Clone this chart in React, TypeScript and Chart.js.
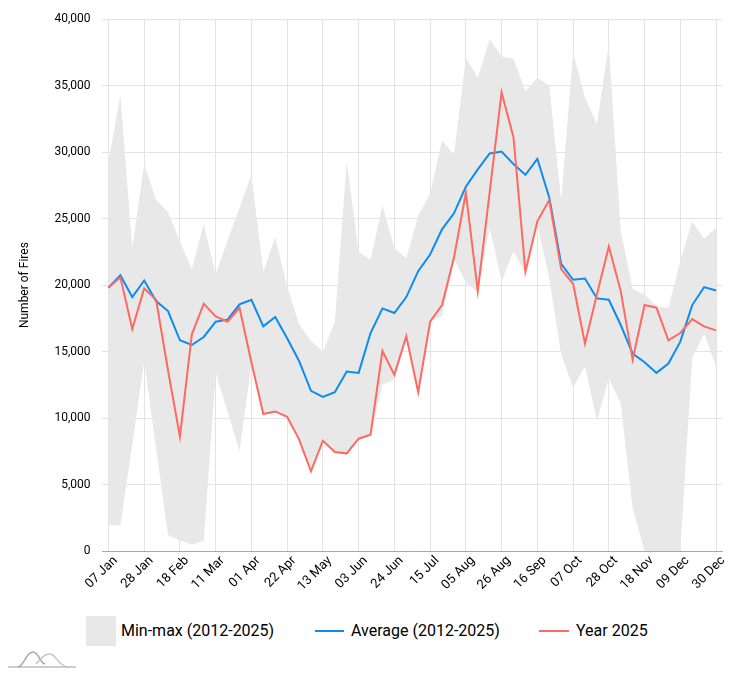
import { useEffect, useRef } from 'react';
import { Chart, registerables } from 'chart.js';

Chart.register(...registerables);

const FONT = 'Roboto, "Noto Sans", "DejaVu Sans", sans-serif';

const weeks = [
  '07 Jan', '14 Jan', '21 Jan', '28 Jan', '04 Feb', '11 Feb', '18 Feb', '25 Feb',
  '04 Mar', '11 Mar', '18 Mar', '25 Mar', '01 Apr', '08 Apr', '15 Apr', '22 Apr',
  '29 Apr', '06 May', '13 May', '20 May', '27 May', '03 Jun', '10 Jun', '17 Jun',
  '24 Jun', '01 Jul', '08 Jul', '15 Jul', '22 Jul', '29 Jul', '05 Aug', '12 Aug',
  '19 Aug', '26 Aug', '02 Sep', '09 Sep', '16 Sep', '23 Sep', '30 Sep', '07 Oct',
  '14 Oct', '21 Oct', '28 Oct', '04 Nov', '11 Nov', '18 Nov', '25 Nov', '02 Dec',
  '09 Dec', '16 Dec', '23 Dec', '30 Dec',
];

const maxValues = [
  29300, 34300, 22800, 29100, 26400, 25500, 23300, 21200, 24600, 20800,
  23400, 25800, 28300, 21000, 23600, 19900, 17100, 15800, 15000, 17200,
  29300, 22500, 21900, 26000, 22800, 22000, 25200, 26900, 30900, 29800,
  37100, 35600, 38500, 37200, 37000, 34600, 35600, 35000, 26400, 37500,
  34100, 32100, 38100, 24100, 19700, 19300, 18400, 18300, 21800, 24800,
  23500, 24300,
];

const minValues = [
  2000, 1900, 8000, 14300, 7700, 1200, 800, 500, 750, 13400,
  10500, 7500, 14000, 10300, 10500, 10100, 8400, 6000, 8300, 7450,
  7350, 8450, 8750, 12500, 12900, 16150, 11950, 17250, 17700, 22000,
  20200, 19500, 24300, 20300, 22550, 20900, 24600, 20500, 14800, 12300,
  13900, 9800, 13000, 11100, 3200, 0, 0, 0, 0, 14500,
  16350, 13900,
];

const avgValues = [
  19800, 20750, 19100, 20350, 18800, 18050, 15850, 15500, 16100, 17250,
  17400, 18550, 18900, 16900, 17600, 16000, 14300, 12050, 11600, 11950,
  13500, 13400, 16400, 18250, 17900, 19100, 21050, 22300, 24200, 25400,
  27400, 28700, 29900, 30050, 29100, 28300, 29500, 26600, 21600, 20400,
  20500, 19000, 18900, 17000, 14850, 14200, 13400, 14100, 15750, 18500,
  19850, 19600,
];

const year2025Values = [
  19800, 20600, 16700, 19750, 18900, 13600, 8600, 16300, 18600, 17650,
  17250, 18300, 14200, 10300, 10500, 10100, 8400, 6000, 8300, 7450,
  7350, 8450, 8750, 15050, 13250, 16150, 11950, 17250, 18500, 22050,
  26950, 19550, 27000, 34500, 31100, 21000, 24800, 26400, 21200, 20100,
  15600, 19300, 22900, 19550, 14400, 18500, 18300, 15850, 16400, 17450,
  16900, 16600,
];

const BAND = '#e8e8e8';
const BLUE = '#0b8cf2';
const RED = '#ff6961';
const GRID = '#e3e3e3';

export default function App() {
  const ref = useRef<HTMLCanvasElement>(null);

  useEffect(() => {
    if (!ref.current) return;
    const chart = new Chart(ref.current, {
      type: 'line',
      data: {
        labels: weeks,
        datasets: [
          {
            label: 'Max',
            data: maxValues,
            fill: '+1',
            backgroundColor: BAND,
            borderColor: 'rgba(0,0,0,0)',
            borderWidth: 0,
            pointRadius: 0,
            tension: 0,
            order: 3,
          },
          {
            label: 'Min-max (2012-2025)',
            data: minValues,
            fill: false,
            backgroundColor: BAND,
            borderColor: 'rgba(0,0,0,0)',
            borderWidth: 0,
            pointRadius: 0,
            tension: 0,
            order: 3,
          },
          {
            label: 'Average (2012-2025)',
            data: avgValues,
            fill: false,
            borderColor: BLUE,
            borderWidth: 2,
            pointRadius: 0,
            tension: 0,
            order: 2,
          },
          {
            label: 'Year 2025',
            data: year2025Values,
            fill: false,
            borderColor: RED,
            borderWidth: 2,
            pointRadius: 0,
            tension: 0,
            order: 1,
          },
        ],
      },
      options: {
        animation: false,
        responsive: true,
        maintainAspectRatio: false,
        layout: { padding: { left: 18, right: 19, top: 12, bottom: 0 } },
        plugins: {
          legend: { display: false },
          tooltip: { enabled: false },
        },
        scales: {
          x: {
            offset: true,
            grid: { offset: false, color: GRID, drawTicks: false },
            border: { color: '#a8a8a8' },
            ticks: {
              autoSkip: false,
              maxRotation: 45,
              minRotation: 45,
              padding: 2,
              labelOffset: 7,
              color: '#000',
              font: { family: FONT, size: 13 },
              callback: (_v: any, i: number) => (i % 3 === 0 ? weeks[i] : null),
            },
          },
          y: {
            min: 0,
            max: 40000,
            grid: { color: GRID, drawTicks: false },
            border: { display: false },
            ticks: {
              stepSize: 5000,
              padding: 12,
              color: '#000',
              font: { family: FONT, size: 12 },
              callback: (v: any) => Number(v).toLocaleString('en-US'),
            },
            title: {
              display: true,
              text: 'Number of Fires',
              color: '#000',
              font: { family: FONT, size: 12 },
              padding: { top: 0, bottom: 10 },
            },
          },
        },
      },
    });
    return () => chart.destroy();
  }, []);

  const legendText: any = {
    position: 'absolute',
    fontFamily: FONT,
    fontSize: 16,
    color: '#000',
    lineHeight: '20px',
    top: 621,
    whiteSpace: 'nowrap',
  };

  return (
    <div style={{ position: 'fixed', left: 0, top: 0, width: 741, height: 675, background: '#fff' }}>
      <div style={{ position: 'absolute', left: 0, top: 0, width: 741, height: 596 }}>
        <canvas ref={ref} />
      </div>
      <div style={{ position: 'absolute', left: 86, top: 616, width: 30, height: 30, background: BAND }} />
      <div style={{ ...legendText, left: 121 }}>Min-max (2012-2025)</div>
      <div style={{ position: 'absolute', left: 315, top: 630, width: 29, height: 2, background: BLUE }} />
      <div style={{ ...legendText, left: 351 }}>Average (2012-2025)</div>
      <div style={{ position: 'absolute', left: 539, top: 630, width: 30, height: 2, background: RED }} />
      <div style={{ ...legendText, left: 576 }}>Year 2025</div>
      <svg style={{ position: 'absolute', left: 6, top: 646 }} width={72} height={24} viewBox="0 0 72 24">
        <path d="M2 21 L70 21" stroke="#bdbdbd" strokeWidth={1.5} fill="none" />
        <path d="M12 21 C18 20 20 6 27 6 C33 6 34 18 39 18" stroke="#a8a8a8" strokeWidth={1.5} fill="none" />
        <path d="M30 18 C36 12 38 8 44 8 C50 8 52 20 62 21" stroke="#c4c4c4" strokeWidth={1.5} fill="none" />
      </svg>
    </div>
  );
}
